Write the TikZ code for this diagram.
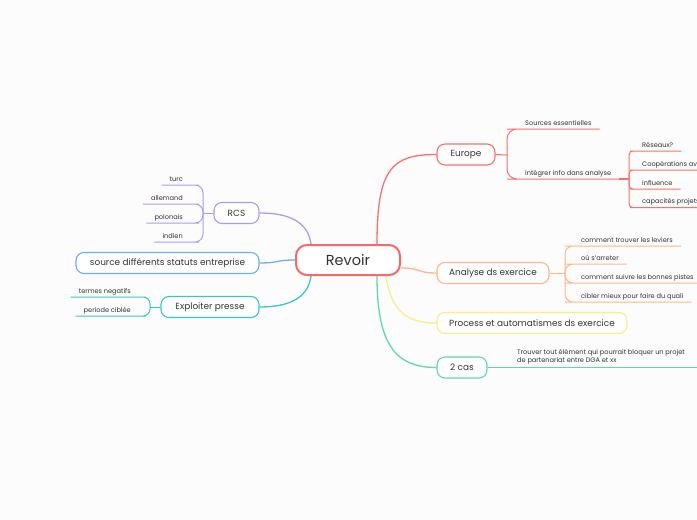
\documentclass[tikz,border=0pt]{standalone}
\usepackage{fontspec}
\setmainfont{Poppins}
\usepackage{tikz}
\usetikzlibrary{backgrounds}
\usepackage{xcolor}
\definecolor{paperCol}{HTML}{FCFCFC}
\definecolor{textCol}{HTML}{333333}
\definecolor{rootCol}{HTML}{F8676A}
\definecolor{europeCol}{HTML}{F8716C}
\definecolor{analyseCol}{HTML}{FFB68A}
\definecolor{processCol}{HTML}{F8EE8C}
\definecolor{casCol}{HTML}{5ED8AC}
\definecolor{rcsCol}{HTML}{A99CF6}
\definecolor{sourceCol}{HTML}{6BAEF1}
\definecolor{presseCol}{HTML}{36C6D0}

\tikzset{
  rootBox/.style={draw=rootCol, line width=2pt, fill=white, rounded corners=11pt,
    minimum width=104pt, minimum height=30pt, text=textCol,
    font=\fontsize{14.5}{16}\selectfont},
  topicBox/.style={draw, line width=1.1pt, fill=white, rounded corners=8pt,
    minimum height=21pt, inner xsep=0pt, text=textCol,
    font=\fontsize{8.9}{10}\selectfont},
  leafR/.style={anchor=south west, inner xsep=8pt, inner ysep=3.5pt,
    text height=5pt, text depth=0pt, text=textCol,
    font=\fontsize{6.6}{8}\selectfont},
  leafL/.style={leafR, anchor=south east},
  branch/.style={line width=1.3pt},
  twig/.style={line width=1pt},
}

\begin{document}
\begin{tikzpicture}[x=1pt, y=-1pt]
%--------------------------------------------------
\useasboundingbox (0,0) rectangle (697,520);
\coordinate (rightEdge) at (697,0);

% central topic
\node[rootBox] (revoir) at (348,260) {Revoir};

% main topics on the right
\node[topicBox, draw=europeCol, minimum width=58pt] (europe) at (466,154.5) {Europe};
\node[topicBox, draw=analyseCol, minimum width=112pt] (analyse) at (493,273) {Analyse ds exercice};
\node[topicBox, draw=processCol, minimum width=190pt] (process) at (532,323) {Process et automatismes ds exercice};
\node[topicBox, draw=casCol, minimum width=50pt] (cas) at (462,367.5) {2 cas};

% main topics on the left
\node[topicBox, draw=rcsCol, minimum width=45pt] (rcs) at (236.5,213) {RCS};
\node[topicBox, draw=sourceCol, minimum width=183pt] (source) at (167.5,263) {source différents statuts entreprise};
\node[topicBox, draw=presseCol, minimum width=98pt] (presse) at (210,307) {Exploiter presse};

\begin{scope}[on background layer]
\fill[paperCol] (0,0) rectangle (697,520);

% lines from the central topic
\draw[europeCol, branch] ([xshift=29pt]revoir.north) .. controls +(0,-75) and +(-45,0) .. (europe.west);
\draw[analyseCol, branch] ([yshift=-8pt]revoir.east) .. controls +(20,0) and +(-20,0) .. (analyse.west);
\draw[processCol, branch] ([xshift=38pt]revoir.south) .. controls +(5,35) and +(-30,0) .. (process.west);
\draw[casCol, branch] ([xshift=29pt]revoir.south) .. controls +(0,70) and +(-40,0) .. (cas.west);
\draw[rcsCol, branch] ([xshift=-37pt]revoir.north) .. controls +(-3,-22) and +(30,0) .. (rcs.east);
\draw[sourceCol, branch] (revoir.west) .. controls +(-20,0) and +(20,0) .. (source.east);
\draw[presseCol, branch] ([xshift=-37pt]revoir.south) .. controls +(-3,22) and +(30,0) .. (presse.east);
\end{scope}

% now "Europe" leaves
\node[leafR] (sources) at (517,129) {Sources essentielles};
\node[leafR] (integrer) at (517,179) {intégrer info dans analyse};
\coordinate (euHub) at (507,155);
\draw[europeCol, twig] (europe.east) -- (euHub);
\draw[europeCol, twig, rounded corners=10pt] (euHub) |- (sources.south west) -- (sources.south east);
\draw[europeCol, twig, rounded corners=10pt] (euHub) |- (integrer.south west) -- (integrer.south east);

\node[leafR] (reseaux) at (634,151) {Réseaux?};
\node[leafR] (coop) at (634,170) {Coopérations av};
\node[leafR] (influence) at (634,189) {influence};
\node[leafR] (capacites) at (634,207.5) {capacités projets};
\coordinate (intHub) at (629,179);
\draw[europeCol, line width=1.8pt] (integrer.south east) -- (intHub);
\foreach \leaf in {reseaux, coop, influence, capacites}
  \draw[europeCol, twig, rounded corners=4pt] (intHub) |- (\leaf.south west) -- (\leaf.south east);

% now "Analyse" leaves
\node[leafR] (leviers) at (573,246) {comment trouver les leviers};
\node[leafR] (arreter) at (573,264) {où s'arreter};
\node[leafR] (pistes) at (573,283) {comment suivre les bonnes pistes};
\node[leafR] (quali) at (573,302) {cibler mieux pour faire du quali};
\coordinate (anHub) at (565,273);
\draw[analyseCol, twig] (analyse.east) -- (anHub);
\foreach \leaf in {leviers, arreter, pistes, quali}
  \draw[analyseCol, twig, rounded corners=8pt] (anHub) |- (\leaf.south west) -- (\leaf.south east);

% now "2 cas" leaf
\node[anchor=south west, inner xsep=8pt, inner ysep=2.5pt, align=left, text=textCol,
  font=\fontsize{6.6}{8}\selectfont] (trouver) at (509,367)
  {Trouver tout élément qui pourrait bloquer un projet\\de partenariat entre DGA et xx};
\draw[casCol, twig] (cas.east) -- (cas.east -| rightEdge);

% now "RCS" leaves
\node[leafL] (turc) at (191,185) {turc};
\node[leafL] (allemand) at (191,204) {allemand};
\node[leafL] (polonais) at (191,223) {polonais};
\node[leafL] (indien) at (191,242) {indien};
\coordinate (rcsHub) at (203,213);
\draw[rcsCol, twig] (rcs.west) -- (rcsHub);
\foreach \leaf in {turc, allemand, polonais, indien}
  \draw[rcsCol, twig, rounded corners=8pt] (rcsHub) |- (\leaf.south east) -- (\leaf.south west);

% now "Exploiter presse" leaves
\node[leafL] (termes) at (139,297) {termes negatifs};
\node[leafL] (periode) at (139,316) {periode ciblée};
\coordinate (presseHub) at (150,307);
\draw[presseCol, twig] (presse.west) -- (presseHub);
\foreach \leaf in {termes, periode}
  \draw[presseCol, twig, rounded corners=7pt] (presseHub) |- (\leaf.south east) -- (\leaf.south west);

%--------------------------------------------------
\end{tikzpicture}
\end{document}
